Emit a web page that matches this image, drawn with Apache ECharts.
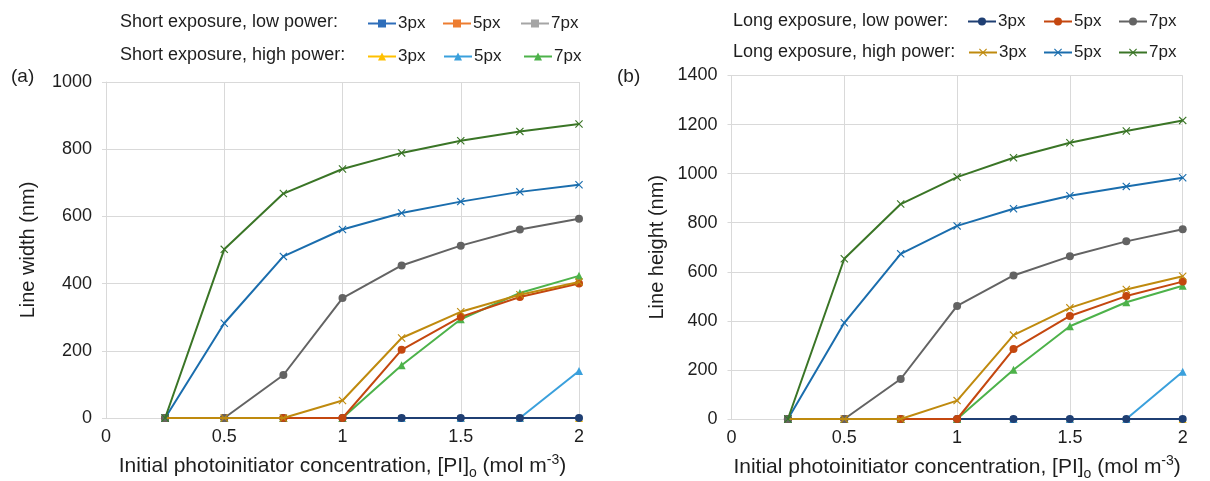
<!DOCTYPE html>
<html><head><meta charset="utf-8">
<script src="https://cdn.jsdelivr.net/npm/echarts@6/dist/echarts.min.js"></script>
<style>html,body{margin:0;padding:0;background:#fff}#c{width:1210px;height:481px}</style>
</head><body><div id="c"></div>
<script>
// ---------- data ----------
const xValues = [0.25, 0.5, 0.75, 1, 1.25, 1.5, 1.75, 2];

// Panel (a): Line width (nm)
const aShortLow3  = [0, 0, 0, 0, 0, 0, 0, 0];
const aShortLow5  = [0, 0, 0, 0, 0, 0, 0, 0];
const aShortLow7  = [0, 0, 0, 0, 0, 0, 0, 0];
const aShortHigh3 = [0, 0, 0, 0, 0, 0, 0, 0];
const aShortHigh5 = [0, 0, 0, 0, 0, 0, 0, 140];
const aShortHigh7 = [0, 0, 0, 0, 157, 294, 372, 423];
const aLongLow3   = [0, 0, 0, 0, 0, 0, 0, 0];
const aLongLow5   = [0, 0, 0, 0, 203, 301, 360, 400];
const aLongLow7   = [0, 0, 128, 357, 454, 513, 561, 593];
const aLongHigh3  = [0, 0, 0, 52, 238, 316, 367, 405];
const aLongHigh5  = [0, 282, 481, 561, 610, 644, 673, 694];
const aLongHigh7  = [0, 502, 668, 741, 789, 825, 853, 875];

// Panel (b): Line height (nm)
const bShortLow3  = [0, 0, 0, 0, 0, 0, 0, 0];
const bShortLow5  = [0, 0, 0, 0, 0, 0, 0, 0];
const bShortLow7  = [0, 0, 0, 0, 0, 0, 0, 0];
const bShortHigh3 = [0, 0, 0, 0, 0, 0, 0, 0];
const bShortHigh5 = [0, 0, 0, 0, 0, 0, 0, 193];
const bShortHigh7 = [0, 0, 0, 0, 201, 378, 476, 543];
const bLongLow3   = [0, 0, 0, 0, 0, 0, 0, 0];
const bLongLow5   = [0, 0, 0, 0, 285, 420, 501, 560];
const bLongLow7   = [0, 0, 163, 461, 585, 663, 724, 773];
const bLongHigh3  = [0, 0, 0, 75, 342, 453, 528, 582];
const bLongHigh5  = [0, 392, 673, 787, 857, 910, 948, 983];
const bLongHigh7  = [0, 653, 876, 986, 1065, 1126, 1174, 1217];

const legendLabels = ['3px', '5px', '7px'];
const groupLabels = ['Short exposure, low power:', 'Short exposure, high power:',
                     'Long exposure, low power:', 'Long exposure, high power:'];
const yTitles = ['Line width (nm)', 'Line height (nm)'];
const panelLabels = ['(a)', '(b)'];

// ---------- styles ----------
const FONT = '"Liberation Sans", Arial, sans-serif';
const TXT = '#1e1e1e';
const GRID = '#d9d9d9';
const XPATH = 'path://M0,1 L1,0 L5,4 L9,0 L10,1 L6,5 L10,9 L9,10 L5,6 L1,10 L0,9 L4,5 Z';

const styles = {
  SL3: {color: '#2f6eba', symbol: 'rect', size: 6},
  SL5: {color: '#ed7d31', symbol: 'rect', size: 6},
  SL7: {color: '#a5a5a5', symbol: 'rect', size: 6},
  SH3: {color: '#ffc000', symbol: 'triangle', size: 8},
  SH5: {color: '#3aa0dc', symbol: 'triangle', size: 8},
  SH7: {color: '#4db24a', symbol: 'triangle', size: 8},
  LL3: {color: '#1f3f73', symbol: 'circle', size: 8},
  LL5: {color: '#c4470f', symbol: 'circle', size: 8},
  LL7: {color: '#636363', symbol: 'circle', size: 8},
  LH3: {color: '#bf8a0e', symbol: XPATH, size: 8},
  LH5: {color: '#1a6dad', symbol: XPATH, size: 8},
  LH7: {color: '#3a7526', symbol: XPATH, size: 8}
};

const panelData = [
  {SL3: aShortLow3, SL5: aShortLow5, SL7: aShortLow7, SH3: aShortHigh3, SH5: aShortHigh5, SH7: aShortHigh7,
   LL3: aLongLow3, LL5: aLongLow5, LL7: aLongLow7, LH3: aLongHigh3, LH5: aLongHigh5, LH7: aLongHigh7},
  {SL3: bShortLow3, SL5: bShortLow5, SL7: bShortLow7, SH3: bShortHigh3, SH5: bShortHigh5, SH7: bShortHigh7,
   LL3: bLongLow3, LL5: bLongLow5, LL7: bLongLow7, LH3: bLongHigh3, LH5: bLongHigh5, LH7: bLongHigh7}
];
const order = ['SL3','SL5','SL7','SH3','SH5','SH7','LL3','LL5','LL7','LH3','LH5','LH7'];

const series = [];
panelData.forEach((pd, p) => {
  order.forEach((key, k) => {
    const st = styles[key];
    series.push({
      type: 'line', name: key, xAxisIndex: p, yAxisIndex: p,
      data: xValues.map((x, i) => [x, pd[key][i]]),
      symbol: st.symbol, symbolSize: st.size, showSymbol: true, clip: false,
      lineStyle: {color: st.color, width: 2},
      itemStyle: {color: st.color, borderWidth: 0},
      emphasis: {disabled: true},
      z: 2 + k * 0.01, animation: false
    });
  });
});

// legend positions
const legendPos = [
  // [key, left, centerY]
  ['SL3', 367, 24], ['SL5', 442, 24], ['SL7', 520, 24],
  ['SH3', 367, 57], ['SH5', 443, 57], ['SH7', 523, 57],
  ['LL3', 967, 22], ['LL5', 1043, 22], ['LL7', 1118, 22],
  ['LH3', 968, 53], ['LH5', 1043, 53], ['LH7', 1118, 53]
];
const legends = legendPos.map(([key, left, cy]) => ({
  data: [key], left: left, top: cy - 9, padding: 0, itemWidth: 28, itemHeight: 10,
  selectedMode: false, orient: 'horizontal', itemGap: 0,
  formatter: n => legendLabels[['3','5','7'].indexOf(n.slice(2))],
  textStyle: {fontSize: 17, color: TXT, fontFamily: FONT, padding: [0, 0, 0, -3]}
}));

const axisNameRich = {
  t: {fontSize: 21, color: TXT, fontFamily: FONT, lineHeight: 27},
  sub: {fontSize: 14, color: TXT, fontFamily: FONT, verticalAlign: 'bottom'},
  sup: {fontSize: 14, color: TXT, fontFamily: FONT, verticalAlign: 'top'}
};
const xName = '{t|Initial photoinitiator concentration, [PI]}{sub|o}{t| (mol m}{sup|-3}{t|)}';

function xAxis(idx) {
  return {
    type: 'value', gridIndex: idx, min: 0, max: 2, interval: 0.5,
    name: xName, nameLocation: 'middle', nameGap: 35,
    nameTextStyle: {rich: axisNameRich},
    axisLine: {show: true, lineStyle: {color: GRID, width: 1}},
    axisTick: {show: false},
    axisLabel: {fontSize: 18, color: TXT, fontFamily: FONT, margin: 10},
    splitLine: {show: true, lineStyle: {color: GRID, width: 1}}
  };
}
function yAxis(idx, max, gap) {
  return {
    type: 'value', gridIndex: idx, min: 0, max: max, interval: 200,
    name: yTitles[idx], nameLocation: 'middle', nameGap: gap,
    nameTextStyle: {fontSize: 20, color: TXT, fontFamily: FONT},
    axisLine: {show: true, lineStyle: {color: GRID, width: 1}},
    axisTick: {show: true, length: 4, lineStyle: {color: GRID}},
    axisLabel: {fontSize: 18, color: TXT, fontFamily: FONT, margin: 14, formatter: v => String(v)},
    splitLine: {show: true, lineStyle: {color: GRID, width: 1}}
  };
}

const option = {
  backgroundColor: '#fff',
  animation: false,
  grid: [
    {left: 106, right: 631, top: 82, bottom: 63, containLabel: false, outerBoundsMode: 'none'},
    {left: 731.5, right: 27.3, top: 75.5, bottom: 62, containLabel: false, outerBoundsMode: 'none'}
  ],
  xAxis: [xAxis(0), xAxis(1)],
  yAxis: [yAxis(0, 1000, 68), yAxis(1, 1400, 64)],
  legend: legends,
  series: series,
  graphic: [
    {type: 'text', left: 120, top: 13, style: {text: groupLabels[0], fontSize: 18, fill: TXT, fontFamily: FONT}},
    {type: 'text', left: 120, top: 46, style: {text: groupLabels[1], fontSize: 18, fill: TXT, fontFamily: FONT}},
    {type: 'text', left: 733, top: 12, style: {text: groupLabels[2], fontSize: 18, fill: TXT, fontFamily: FONT}},
    {type: 'text', left: 733, top: 43, style: {text: groupLabels[3], fontSize: 18, fill: TXT, fontFamily: FONT}},
    {type: 'text', left: 11, top: 67, style: {text: panelLabels[0], fontSize: 19, fill: TXT, fontFamily: FONT}},
    {type: 'text', left: 617, top: 67, style: {text: panelLabels[1], fontSize: 19, fill: TXT, fontFamily: FONT}}
  ]
};

const chart = echarts.init(document.getElementById('c'), null, {renderer: 'canvas'});
chart.setOption(option);
</script>
</body></html>
